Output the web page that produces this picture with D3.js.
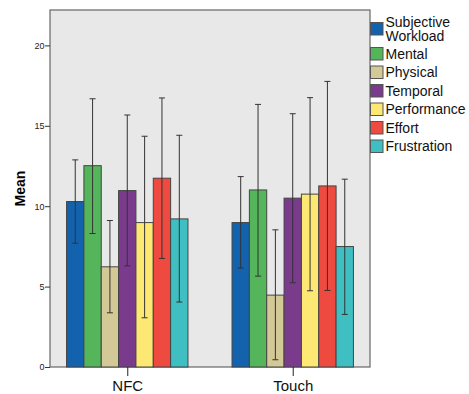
<!DOCTYPE html>
<html>
<head>
<meta charset="utf-8">
<script src="https://cdn.jsdelivr.net/npm/d3@7"></script>
<style>
  body { margin: 0; background: #fff; }
  svg { display: block; font-family: "Liberation Sans", Arial, sans-serif; }
</style>
</head>
<body>
<script>
const groups = ["NFC", "Touch"];
const measures = ["Subjective Workload", "Mental", "Physical", "Temporal", "Performance", "Effort", "Frustration"];
const colors = ["#1262ad", "#55b55a", "#d2c996", "#7a3b8d", "#fde873", "#ee4a3f", "#3fbfc2"];
const yTicks = [0, 5, 10, 15, 20];

// means per group, same order as measures
const meanNFC = [10.29, 12.52, 6.23, 10.97, 8.98, 11.74, 9.21];
const meanTouch = [8.98, 11.01, 4.47, 10.50, 10.75, 11.26, 7.49];
// error bar ends
const lowNFC = [7.70, 8.30, 3.37, 6.29, 3.06, 6.75, 4.04];
const highNFC = [12.88, 16.68, 9.11, 15.67, 14.35, 16.73, 14.41];
const lowTouch = [6.15, 5.65, 0.45, 5.24, 4.74, 4.76, 3.27];
const highTouch = [11.84, 16.33, 8.53, 15.75, 16.75, 17.76, 11.68];

const W = 469, H = 394;
const plot = {left: 50, top: 10, right: 370, bottom: 367};

const rows = [];
groups.forEach((g, gi) => {
  const mean = gi === 0 ? meanNFC : meanTouch;
  const lo = gi === 0 ? lowNFC : lowTouch;
  const hi = gi === 0 ? highNFC : highTouch;
  measures.forEach((m, mi) => {
    rows.push({group: g, measure: m, mean: mean[mi], lo: lo[mi], hi: hi[mi], color: colors[mi]});
  });
});

const svg = d3.select("body").append("svg")
  .attr("width", W)
  .attr("height", H);

const x = d3.scalePoint()
  .domain(groups)
  .range([plot.left, plot.right])
  .padding(0.467);

const groupW = 121.4;
const xb = d3.scaleBand()
  .domain(measures)
  .range([-groupW / 2, groupW / 2]);

const y = d3.scaleLinear()
  .domain([0, 22.2])
  .range([plot.bottom, plot.top]);

svg.append("rect")
  .attr("x", plot.left)
  .attr("y", plot.top)
  .attr("width", plot.right - plot.left)
  .attr("height", plot.bottom - plot.top)
  .attr("fill", "#e8e8e8")
  .attr("stroke", "#666")
  .attr("stroke-width", 1.2);

svg.selectAll("rect.bar")
  .data(rows)
  .enter().append("rect")
  .attr("class", "bar")
  .attr("x", d => x(d.group) + xb(d.measure))
  .attr("y", d => y(d.mean))
  .attr("width", xb.bandwidth())
  .attr("height", d => y(0) - y(d.mean))
  .attr("fill", d => d.color)
  .attr("stroke", "#444")
  .attr("stroke-width", 1);

const err = svg.selectAll("g.err")
  .data(rows)
  .enter().append("g")
  .attr("class", "err")
  .attr("stroke", "#333")
  .attr("stroke-width", 1);

const cx = d => x(d.group) + xb(d.measure) + xb.bandwidth() / 2;
err.append("line")
  .attr("x1", cx).attr("x2", cx)
  .attr("y1", d => y(d.lo)).attr("y2", d => y(d.hi));
err.append("line")
  .attr("x1", d => cx(d) - 3).attr("x2", d => cx(d) + 3)
  .attr("y1", d => y(d.hi)).attr("y2", d => y(d.hi));
err.append("line")
  .attr("x1", d => cx(d) - 3).attr("x2", d => cx(d) + 3)
  .attr("y1", d => y(d.lo)).attr("y2", d => y(d.lo));

const yAxis = d3.axisLeft(y).tickValues(yTicks).tickSize(5).tickSizeOuter(0);
const gy = svg.append("g")
  .attr("transform", "translate(" + plot.left + ",0)")
  .call(yAxis);
gy.select(".domain").remove();
gy.selectAll(".tick line").attr("stroke", "#333");
gy.selectAll(".tick text").attr("font-size", 9).attr("fill", "#222").attr("x", -5.5);

const xAxis = d3.axisBottom(x).tickSize(9).tickSizeOuter(0);
const gx = svg.append("g")
  .attr("transform", "translate(0," + plot.bottom + ")")
  .call(xAxis);
gx.select(".domain").remove();
gx.selectAll(".tick line").attr("stroke", "#222");
gx.selectAll(".tick text").attr("font-size", 15).attr("fill", "#111").attr("y", 13);

svg.append("text")
  .attr("transform", "translate(25," + ((plot.top + plot.bottom) / 2) + ") rotate(-90)")
  .attr("text-anchor", "middle")
  .attr("font-size", 14)
  .attr("font-weight", "bold")
  .text("Mean");

// legend
const legendY = [28.5, 53.5, 72, 90.5, 109, 127.5, 146];
const legend = svg.selectAll("g.legend")
  .data(measures)
  .enter().append("g")
  .attr("class", "legend")
  .attr("transform", (d, i) => "translate(370," + legendY[i] + ")");

legend.append("rect")
  .attr("x", 0.5)
  .attr("y", -6)
  .attr("width", 12.5)
  .attr("height", 12.5)
  .attr("fill", (d, i) => colors[i])
  .attr("stroke", "#555")
  .attr("stroke-width", 1);

legend.append("text")
  .attr("x", 15.5)
  .attr("font-size", 14)
  .attr("fill", "#111")
  .each(function(d) {
    const words = d === "Subjective Workload" ? ["Subjective", "Workload"] : [d];
    const t = d3.select(this);
    words.forEach((w, k) => {
      t.append("tspan")
        .attr("x", 15.5)
        .attr("y", words.length > 1 ? (k === 0 ? -2 : 12.6) : 5)
        .text(w);
    });
  });
</script>
</body>
</html>
